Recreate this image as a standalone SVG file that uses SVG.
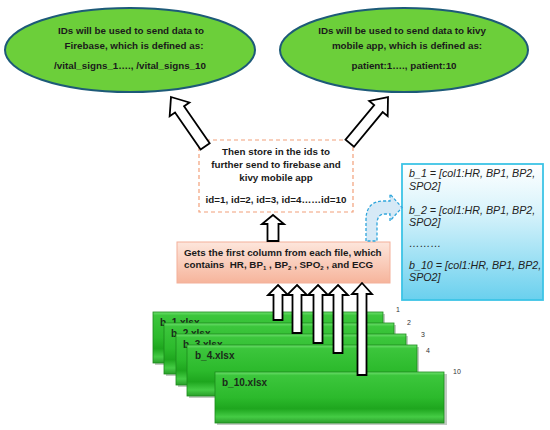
<svg xmlns="http://www.w3.org/2000/svg" width="550" height="430" viewBox="0 0 550 430">
<defs>
<linearGradient id="pinkG" x1="0" y1="0" x2="0" y2="1">
<stop offset="0" stop-color="#fde6dc"/><stop offset="1" stop-color="#f6b49b"/>
</linearGradient>
<linearGradient id="blueG" x1="0" y1="0" x2="0" y2="1">
<stop offset="0" stop-color="#ffffff"/><stop offset="0.35" stop-color="#d8f3fb"/><stop offset="1" stop-color="#6ad0ee"/>
</linearGradient>
<linearGradient id="slabG" x1="0" y1="0" x2="0" y2="1">
<stop offset="0" stop-color="#6ee06e"/><stop offset="0.07" stop-color="#3cc63c"/><stop offset="0.5" stop-color="#2cba2c"/><stop offset="0.72" stop-color="#1ea61e"/><stop offset="0.88" stop-color="#45cc45"/><stop offset="1" stop-color="#2a9e2a"/>
</linearGradient>
<style>
.ell{fill:#6ccf3a;stroke:#1d5a78;stroke-width:2}
.t{font-family:"Liberation Sans",Arial,sans-serif;font-weight:bold;font-size:9.8px;fill:#1a1a1a}
.ti{font-family:"Liberation Sans",Arial,sans-serif;font-style:italic;font-size:10.7px;fill:#222}
.lab{font-family:"Liberation Sans",Arial,sans-serif;font-weight:bold;font-size:10px;fill:#1a2a1a}
.num{font-family:"Liberation Sans",Arial,sans-serif;font-size:7px;fill:#333}
.slab{fill:url(#slabG);stroke:#1c8a1c;stroke-width:0.8}
.sh{fill:#7a8a7a;opacity:0.45}
.arr{fill:#ffffff;stroke:#000;stroke-width:1.8;stroke-linejoin:miter}
</style>
</defs>
<rect width="550" height="430" fill="#ffffff"/>

<g id="firebase">
<ellipse class="ell" cx="130" cy="50" rx="125" ry="42"/>
<text class="t" x="131" y="34" text-anchor="middle">IDs will be used to send data to</text>
<text class="t" x="134" y="49" text-anchor="middle">Firebase, which is defined as:</text>
<text class="t" x="130" y="69" text-anchor="middle">/vital_signs_1…., /vital_signs_10</text>
</g>

<g id="kivy">
<ellipse class="ell" cx="404" cy="50" rx="124" ry="42"/>
<text class="t" x="402" y="34" text-anchor="middle">IDs will be used to send data to kivy</text>
<text class="t" x="407" y="49" text-anchor="middle">mobile app, which is defined as:</text>
<text class="t" x="404" y="69" text-anchor="middle">patient:1…., patient:10</text>
</g>

<g id="store">
<rect x="199" y="140" width="154" height="72" fill="#ffffff" stroke="#f2a07a" stroke-width="1.2" stroke-dasharray="4 3"/>
<text class="t" x="276" y="155" text-anchor="middle">Then store in the ids to</text>
<text class="t" x="276" y="168" text-anchor="middle">further send to firebase and</text>
<text class="t" x="276" y="181" text-anchor="middle">kivy mobile app</text>
<text class="t" x="276" y="203" text-anchor="middle">id=1, id=2, id=3, id=4……id=10</text>
</g>

<g id="columns">
<rect x="402" y="164" width="141" height="136" fill="url(#blueG)" stroke="#3cc4e6" stroke-width="1.8"/>
<text class="ti" x="409" y="177">b_1 = [col1:HR, BP1, BP2,</text>
<text class="ti" x="409" y="190">SPO2]</text>
<text class="ti" x="409" y="214">b_2 = [col1:HR, BP1, BP2,</text>
<text class="ti" x="409" y="226">SPO2]</text>
<text class="ti" x="409" y="247">………</text>
<text class="ti" x="409" y="269">b_10 = [col1:HR, BP1, BP2,</text>
<text class="ti" x="409" y="281">SPO2]</text>
</g>

<g id="extract">
<rect x="177" y="242" width="213" height="41" fill="url(#pinkG)" stroke="#f3b09a" stroke-width="1"/>
<text class="t" x="184" y="255.5">Gets the first column from each file, which</text>
<text class="t" x="184" y="268">contains&#160; HR, BP<tspan font-size="6" dy="2">1</tspan><tspan dy="-2"> , BP</tspan><tspan font-size="6" dy="2">2</tspan><tspan dy="-2"> , SPO</tspan><tspan font-size="6" dy="2">2</tspan><tspan dy="-2"> , and ECG</tspan></text>
</g>

<g id="file1">
<rect class="sh" x="155" y="314" width="230" height="51"/>
<rect class="slab" x="153" y="312" width="230" height="51"/>
<text class="lab" x="160" y="326">b_1.xlsx</text>
<text class="num" x="396" y="312">1</text>
</g>
<g id="file2">
<rect class="sh" x="166" y="325" width="230" height="51"/>
<rect class="slab" x="164" y="323" width="230" height="51"/>
<text class="lab" x="171" y="337">b_2.xlsx</text>
<text class="num" x="407" y="325">2</text>
</g>
<g id="file3">
<rect class="sh" x="178" y="336" width="230" height="51"/>
<rect class="slab" x="176" y="334" width="230" height="51"/>
<text class="lab" x="183" y="348">b_3.xlsx</text>
<text class="num" x="421" y="337">3</text>
</g>
<g id="file4">
<rect class="sh" x="189" y="347" width="230" height="51"/>
<rect class="slab" x="187" y="345" width="230" height="51"/>
<text class="lab" x="195" y="359">b_4.xlsx</text>
<text class="num" x="426" y="353">4</text>
</g>
<g id="file10">
<rect class="sh" x="217" y="374" width="230" height="51"/>
<rect class="slab" x="215" y="372" width="229" height="51"/>
<text class="lab" x="222" y="386">b_10.xlsx</text>
<text class="num" x="453" y="374">10</text>
</g>

<g id="connectors">
<polygon class="arr" transform="translate(171,97) rotate(-34.7)" points="0,0 12,15 5.5,15 5.5,60 -5.5,60 -5.5,15 -12,15"/>
<polygon class="arr" transform="translate(388,97) rotate(39.6)" points="0,0 12,15 5.5,15 5.5,60 -5.5,60 -5.5,15 -12,15"/>
<polygon class="arr" points="273,215 284,224 278.5,224 278.5,241 267.5,241 267.5,224 262,224"/>
<path d="M366 241 L366 220 Q366 201 384 201 L390 201 L390 194 L402 207.5 L390 221 L390 214 L385 214 Q377 214 377 224 L377 241 Z" fill="#d6e9f6" stroke="#2fa6dc" stroke-width="1.3" stroke-dasharray="3 2"/>
<polygon class="arr" points="278,285 288,295 282.5,295 282.5,320 273.5,320 273.5,295 268,295"/>
<polygon class="arr" points="297,285 307,295 301.5,295 301.5,333 292.5,333 292.5,295 287,295"/>
<polygon class="arr" points="318,285 328,295 322.5,295 322.5,343 313.5,343 313.5,295 308,295"/>
<polygon class="arr" points="338,285 348,295 342.5,295 342.5,353 333.5,353 333.5,295 328,295"/>
<polygon class="arr" points="362,283 372,294 366.5,294 366.5,375 357.5,375 357.5,294 352,294"/>
</g>
</svg>
